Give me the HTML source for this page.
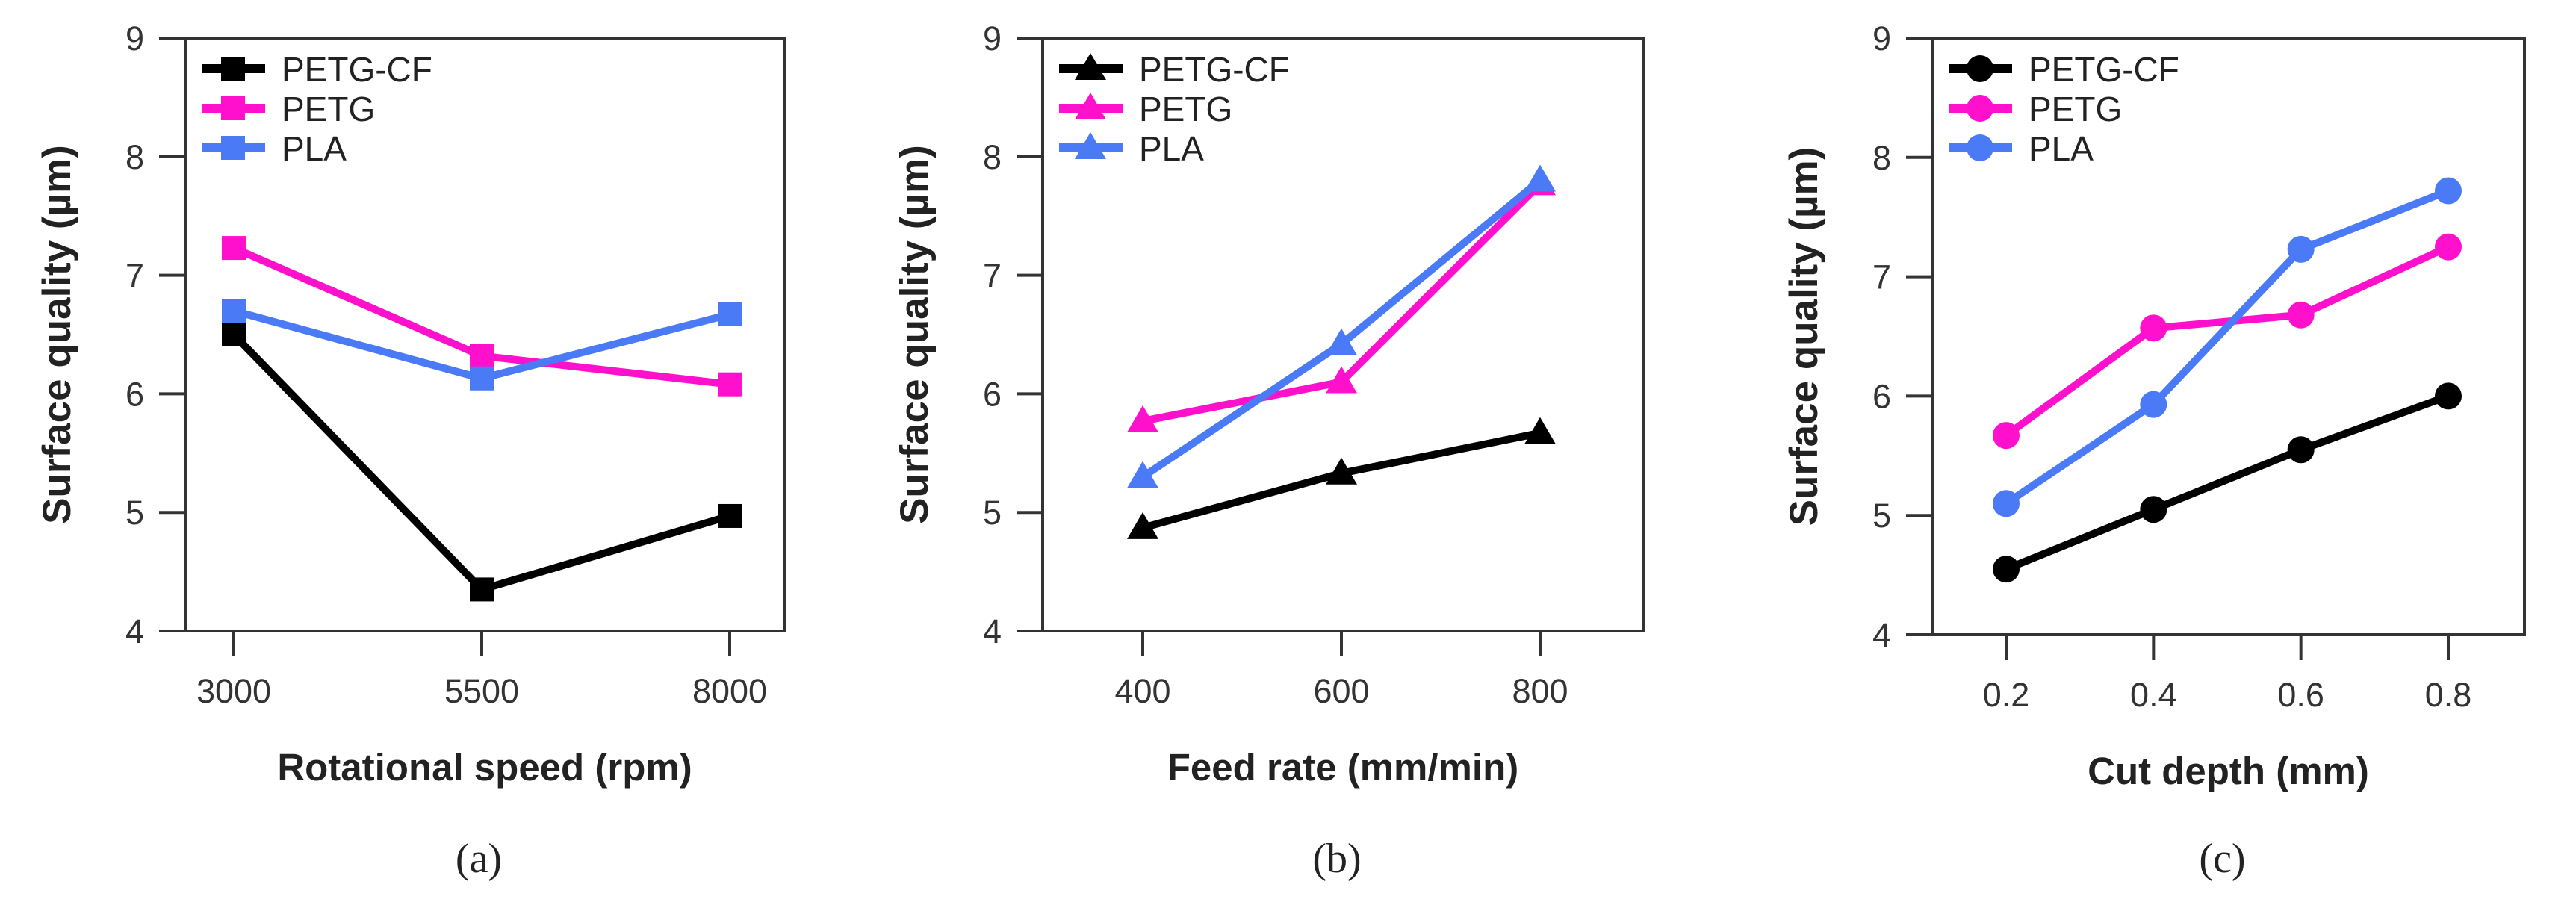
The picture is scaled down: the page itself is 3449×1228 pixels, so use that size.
<!DOCTYPE html>
<html><head><meta charset="utf-8"><style>
html,body{margin:0;padding:0;background:#fff;}
svg{display:block;font-family:"Liberation Sans",Arial,sans-serif;}
</style></head><body>
<svg id="chart" width="3449" height="1228" viewBox="0 0 3449 1228"></svg>
<script>
const seriesNames = ["PETG-CF","PETG","PLA"];
const seriesColors = ["#000000","#ff10cc","#4a7af5"];
const yTicks = [4,5,6,7,8,9];
const aCategories = ["3000","5500","8000"];
const aCF = [6.5,4.35,4.97];
const aPETG = [7.23,6.32,6.08];
const aPLA = [6.7,6.13,6.67];
const bCategories = ["400","600","800"];
const bCF = [4.87,5.33,5.67];
const bPETG = [5.77,6.1,7.77];
const bPLA = [5.3,6.42,7.8];
const cCategories = ["0.2","0.4","0.6","0.8"];
const cCF = [4.55,5.05,5.55,6.0];
const cPETG = [5.67,6.57,6.68,7.25];
const cPLA = [5.1,5.93,7.23,7.72];

const NS="http://www.w3.org/2000/svg";
const svg=document.getElementById('chart');
function mk(tag,attrs,parent){const e=document.createElementNS(NS,tag);for(const k in attrs)e.setAttribute(k,attrs[k]);(parent||svg).appendChild(e);return e;}

const panels=[
 {id:'a',left:248,right:1050,top:51,bottom:845,firstTick:313,lastTick:977,cats:aCategories,series:[aCF,aPETG,aPLA],marker:'square',xtitle:'Rotational speed (rpm)',label:'(a)'},
 {id:'b',left:1396,right:2200,top:51,bottom:845,firstTick:1530,lastTick:2062,cats:bCategories,series:[bCF,bPETG,bPLA],marker:'triangle',xtitle:'Feed rate (mm/min)',label:'(b)'},
 {id:'c',left:2587,right:3380,top:51,bottom:850,firstTick:2686,lastTick:3278,cats:cCategories,series:[cCF,cPETG,cPLA],marker:'circle',xtitle:'Cut depth (mm)',label:'(c)'}
];

function drawMarker(g,type,x,y,color,name){
  let m;
  if(type==='square') m=mk('rect',{x:x-16,y:y-16,width:32,height:32,fill:color},g);
  else if(type==='circle') m=mk('circle',{cx:x,cy:y,r:18,fill:color},g);
  else m=mk('polygon',{points:`${x},${y-21} ${x+21},${y+15} ${x-21},${y+15}`,fill:color},g);
  
  
}

panels.forEach(p=>{
  const g=mk('g',{});
  
  
  const yScale=v=>p.bottom-(v-4)/(9-4)*(p.bottom-p.top);
  const xScale=i=>p.firstTick+i*(p.lastTick-p.firstTick)/(p.cats.length-1);
  const frame=mk('rect',{x:p.left,y:p.top,width:p.right-p.left,height:p.bottom-p.top,fill:'none',stroke:'#333',"stroke-width":4},g);
  
  
  yTicks.forEach(t=>{
    const y=yScale(t);
    const tl=mk('line',{x1:p.left-35,x2:p.left,y1:y,y2:y,stroke:'#333',"stroke-width":4},g);
    
    
    const tx=mk('text',{x:p.left-55,y:y+16,"text-anchor":"end","font-size":45,fill:'#333'},g);
    tx.textContent=t;
    
    
  });
  p.cats.forEach((c,i)=>{
    const x=xScale(i);
    const tl=mk('line',{x1:x,x2:x,y1:p.bottom,y2:p.bottom+34,stroke:'#333',"stroke-width":4},g);
    
    
    const tx=mk('text',{x:x,y:p.bottom+96,"text-anchor":"middle","font-size":45,fill:'#333'},g);
    tx.textContent=c;
    
    
  });
  const xt=mk('text',{x:(p.left+p.right)/2,y:p.bottom+200,"text-anchor":"middle","font-size":51,"font-weight":"bold",fill:'#222'},g);
  xt.textContent=p.xtitle;
  
  
  const yt=mk('text',{x:0,y:0,transform:`translate(${p.left-173+19},${(p.top+p.bottom)/2}) rotate(-90)`,"text-anchor":"middle","font-size":53,"font-weight":"bold",fill:'#222'},g);
  yt.textContent='Surface quality (µm)';
  
  
  const lb=mk('text',{x:(p.left+p.right)/2-8,y:1168,"text-anchor":"middle","font-size":56,"font-family":"Liberation Serif, serif",fill:'#222'},g);
  lb.textContent=p.label;
  
  
  p.series.forEach((vals,si)=>{
    const col=seriesColors[si];
    const pts=vals.map((v,i)=>`${xScale(i)},${yScale(v)}`).join(' ');
    const pl=mk('polyline',{points:pts,fill:'none',stroke:col,"stroke-width":10,"stroke-linejoin":"round"},g);
    
    
    vals.forEach((v,i)=>drawMarker(g,p.marker,xScale(i),yScale(v),col,'point-'+seriesNames[si].toLowerCase()));
    const ly=p.top+41+si*53;
    const lx=p.left+22;
    const le=mk('g',{},g);
    
    
    mk('line',{x1:lx,x2:lx+85,y1:ly,y2:ly,stroke:col,"stroke-width":12},le);
    drawMarker(le,p.marker,lx+42,ly,col,'legend-marker');
    const lt=mk('text',{x:lx+107,y:ly+17,"font-size":46,fill:'#222'},le);
    lt.textContent=seriesNames[si];
  });
});
</script>
</body></html>
